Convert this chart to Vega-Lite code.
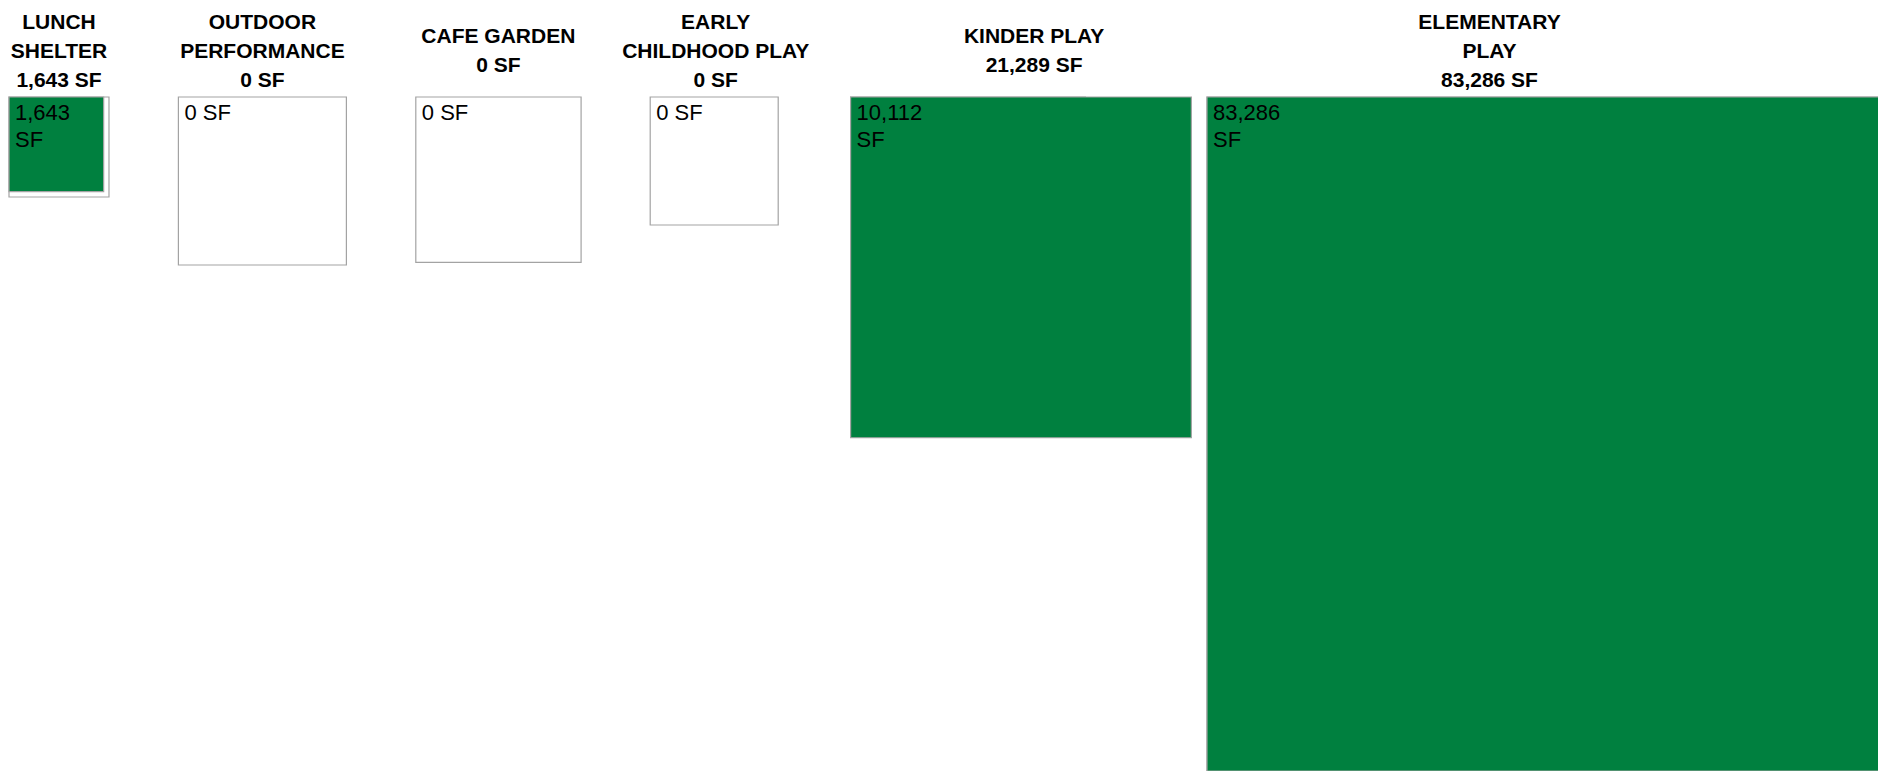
{
  "$schema": "https://vega.github.io/schema/vega-lite/v6.json",
  "padding": {"left": 8, "top": 11, "right": 0, "bottom": 0},
  "background": "white",
  "datasets": {
    "sf": [
      {"name": "LUNCH SHELTER", "actual": 1643, "target": 1833, "label": "1,643\nSF"},
      {"name": "OUTDOOR PERFORMANCE", "actual": 0, "target": 5174, "label": "0 SF"},
      {"name": "CAFE GARDEN", "actual": 0, "target": 5009, "label": "0 SF"},
      {"name": "EARLY CHILDHOOD PLAY", "actual": 0, "target": 3004, "label": "0 SF"},
      {"name": "KINDER PLAY", "actual": 21289, "target": 10112, "label": "10,112\nSF"},
      {"name": "ELEMENTARY PLAY", "actual": 83286, "target": 83286, "label": "83,286\nSF"}
    ]
  },
  "data": {"name": "sf"},
  "spacing": 69.4,
  "bounds": "flush",
  "resolve": {"scale": {"x": "independent", "y": "independent"}},
  "hconcat": [
    {
      "width": 100, "height": 674,
      "title": {"text": ["LUNCH", "SHELTER", "1,643 SF"]},
      "transform": [{"filter": "datum.name === 'LUNCH SHELTER'"}],
      "layer": [
        {"mark": {"type": "rect", "fill": "white", "stroke": "#a3a3a3", "strokeWidth": 1.2},
         "encoding": {
           "x": {"field": "target", "type": "quantitative", "scale": {"type": "sqrt", "domain": [0, 83286], "range": [0, 674], "nice": false}, "axis": null},
           "x2": {"datum": 0},
           "y": {"field": "target", "type": "quantitative", "scale": {"type": "sqrt", "domain": [0, 83286], "range": [0, 674], "nice": false}, "axis": null},
           "y2": {"datum": 0}}},
        {"transform": [{"filter": "datum.actual > 0"}],
         "mark": {"type": "rect", "fill": "#00803f", "stroke": "#a3a3a3", "strokeWidth": 1.2},
         "encoding": {
           "x": {"field": "actual", "type": "quantitative"},
           "x2": {"datum": 0},
           "y": {"field": "actual", "type": "quantitative"},
           "y2": {"datum": 0}}},
        {"mark": {"type": "text", "align": "left", "baseline": "top", "dx": 6, "dy": 6, "lineBreak": "\n", "lineHeight": 27, "fontSize": 22, "font": "Liberation Sans Narrow, Liberation Sans, Arial, sans-serif", "color": "black"},
         "encoding": {
           "x": {"datum": 0, "type": "quantitative"},
           "y": {"datum": 0, "type": "quantitative"},
           "text": {"field": "label", "type": "nominal"}}}
      ]
    },
    {
      "width": 168, "height": 674,
      "title": {"text": ["OUTDOOR", "PERFORMANCE", "0 SF"]},
      "transform": [{"filter": "datum.name === 'OUTDOOR PERFORMANCE'"}],
      "layer": [
        {"mark": {"type": "rect", "fill": "white", "stroke": "#a3a3a3", "strokeWidth": 1.2},
         "encoding": {
           "x": {"field": "target", "type": "quantitative", "scale": {"type": "sqrt", "domain": [0, 83286], "range": [0, 674], "nice": false}, "axis": null},
           "x2": {"datum": 0},
           "y": {"field": "target", "type": "quantitative", "scale": {"type": "sqrt", "domain": [0, 83286], "range": [0, 674], "nice": false}, "axis": null},
           "y2": {"datum": 0}}},
        {"transform": [{"filter": "datum.actual > 0"}],
         "mark": {"type": "rect", "fill": "#00803f", "stroke": "#a3a3a3", "strokeWidth": 1.2},
         "encoding": {
           "x": {"field": "actual", "type": "quantitative"},
           "x2": {"datum": 0},
           "y": {"field": "actual", "type": "quantitative"},
           "y2": {"datum": 0}}},
        {"mark": {"type": "text", "align": "left", "baseline": "top", "dx": 6, "dy": 6, "lineBreak": "\n", "lineHeight": 27, "fontSize": 22, "font": "Liberation Sans Narrow, Liberation Sans, Arial, sans-serif", "color": "black"},
         "encoding": {
           "x": {"datum": 0, "type": "quantitative"},
           "y": {"datum": 0, "type": "quantitative"},
           "text": {"field": "label", "type": "nominal"}}}
      ]
    },
    {
      "width": 165, "height": 674,
      "title": {"text": ["CAFE GARDEN", "0 SF"], "offset": 20},
      "transform": [{"filter": "datum.name === 'CAFE GARDEN'"}],
      "layer": [
        {"mark": {"type": "rect", "fill": "white", "stroke": "#a3a3a3", "strokeWidth": 1.2},
         "encoding": {
           "x": {"field": "target", "type": "quantitative", "scale": {"type": "sqrt", "domain": [0, 83286], "range": [0, 674], "nice": false}, "axis": null},
           "x2": {"datum": 0},
           "y": {"field": "target", "type": "quantitative", "scale": {"type": "sqrt", "domain": [0, 83286], "range": [0, 674], "nice": false}, "axis": null},
           "y2": {"datum": 0}}},
        {"transform": [{"filter": "datum.actual > 0"}],
         "mark": {"type": "rect", "fill": "#00803f", "stroke": "#a3a3a3", "strokeWidth": 1.2},
         "encoding": {
           "x": {"field": "actual", "type": "quantitative"},
           "x2": {"datum": 0},
           "y": {"field": "actual", "type": "quantitative"},
           "y2": {"datum": 0}}},
        {"mark": {"type": "text", "align": "left", "baseline": "top", "dx": 6, "dy": 6, "lineBreak": "\n", "lineHeight": 27, "fontSize": 22, "font": "Liberation Sans Narrow, Liberation Sans, Arial, sans-serif", "color": "black"},
         "encoding": {
           "x": {"datum": 0, "type": "quantitative"},
           "y": {"datum": 0, "type": "quantitative"},
           "text": {"field": "label", "type": "nominal"}}}
      ]
    },
    {
      "width": 131, "height": 674,
      "title": {"text": ["EARLY", "CHILDHOOD PLAY", "0 SF"]},
      "transform": [{"filter": "datum.name === 'EARLY CHILDHOOD PLAY'"}],
      "layer": [
        {"mark": {"type": "rect", "fill": "white", "stroke": "#a3a3a3", "strokeWidth": 1.2},
         "encoding": {
           "x": {"field": "target", "type": "quantitative", "scale": {"type": "sqrt", "domain": [0, 83286], "range": [0, 674], "nice": false}, "axis": null},
           "x2": {"datum": 0},
           "y": {"field": "target", "type": "quantitative", "scale": {"type": "sqrt", "domain": [0, 83286], "range": [0, 674], "nice": false}, "axis": null},
           "y2": {"datum": 0}}},
        {"transform": [{"filter": "datum.actual > 0"}],
         "mark": {"type": "rect", "fill": "#00803f", "stroke": "#a3a3a3", "strokeWidth": 1.2},
         "encoding": {
           "x": {"field": "actual", "type": "quantitative"},
           "x2": {"datum": 0},
           "y": {"field": "actual", "type": "quantitative"},
           "y2": {"datum": 0}}},
        {"mark": {"type": "text", "align": "left", "baseline": "top", "dx": 6, "dy": 6, "lineBreak": "\n", "lineHeight": 27, "fontSize": 22, "font": "Liberation Sans Narrow, Liberation Sans, Arial, sans-serif", "color": "black"},
         "encoding": {
           "x": {"datum": 0, "type": "quantitative"},
           "y": {"datum": 0, "type": "quantitative"},
           "text": {"field": "label", "type": "nominal"}}}
      ]
    },
    {
      "width": 287, "height": 674,
      "title": {"text": ["KINDER PLAY", "21,289 SF"], "dx": 40, "offset": 20},
      "transform": [{"filter": "datum.name === 'KINDER PLAY'"}],
      "layer": [
        {"mark": {"type": "rect", "fill": "white", "stroke": "#a3a3a3", "strokeWidth": 1.2},
         "encoding": {
           "x": {"field": "target", "type": "quantitative", "scale": {"type": "sqrt", "domain": [0, 83286], "range": [0, 674], "nice": false}, "axis": null},
           "x2": {"datum": 0},
           "y": {"field": "target", "type": "quantitative", "scale": {"type": "sqrt", "domain": [0, 83286], "range": [0, 674], "nice": false}, "axis": null},
           "y2": {"datum": 0}}},
        {"transform": [{"filter": "datum.actual > 0"}],
         "mark": {"type": "rect", "fill": "#00803f", "stroke": "#a3a3a3", "strokeWidth": 1.2},
         "encoding": {
           "x": {"field": "actual", "type": "quantitative"},
           "x2": {"datum": 0},
           "y": {"field": "actual", "type": "quantitative"},
           "y2": {"datum": 0}}},
        {"mark": {"type": "text", "align": "left", "baseline": "top", "dx": 6, "dy": 6, "lineBreak": "\n", "lineHeight": 27, "fontSize": 22, "font": "Liberation Sans Narrow, Liberation Sans, Arial, sans-serif", "color": "black"},
         "encoding": {
           "x": {"datum": 0, "type": "quantitative"},
           "y": {"datum": 0, "type": "quantitative"},
           "text": {"field": "label", "type": "nominal"}}}
      ]
    },
    {
      "width": 565, "height": 674,
      "title": {"text": ["ELEMENTARY", "PLAY", "83,286 SF"]},
      "transform": [{"filter": "datum.name === 'ELEMENTARY PLAY'"}],
      "layer": [
        {"mark": {"type": "rect", "fill": "white", "stroke": "#a3a3a3", "strokeWidth": 1.2},
         "encoding": {
           "x": {"field": "target", "type": "quantitative", "scale": {"type": "sqrt", "domain": [0, 83286], "range": [0, 674], "nice": false}, "axis": null},
           "x2": {"datum": 0},
           "y": {"field": "target", "type": "quantitative", "scale": {"type": "sqrt", "domain": [0, 83286], "range": [0, 674], "nice": false}, "axis": null},
           "y2": {"datum": 0}}},
        {"transform": [{"filter": "datum.actual > 0"}],
         "mark": {"type": "rect", "fill": "#00803f", "stroke": "#a3a3a3", "strokeWidth": 1.2},
         "encoding": {
           "x": {"field": "actual", "type": "quantitative"},
           "x2": {"datum": 0},
           "y": {"field": "actual", "type": "quantitative"},
           "y2": {"datum": 0}}},
        {"mark": {"type": "text", "align": "left", "baseline": "top", "dx": 6, "dy": 6, "lineBreak": "\n", "lineHeight": 27, "fontSize": 22, "font": "Liberation Sans Narrow, Liberation Sans, Arial, sans-serif", "color": "black"},
         "encoding": {
           "x": {"datum": 0, "type": "quantitative"},
           "y": {"datum": 0, "type": "quantitative"},
           "text": {"field": "label", "type": "nominal"}}}
      ]
    }
  ],
  "config": {
    "view": {"stroke": null},
    "title": {
      "font": "Liberation Sans Narrow, Liberation Sans, Arial, sans-serif",
      "fontSize": 21,
      "fontWeight": "bold",
      "lineHeight": 29,
      "baseline": "middle",
      "anchor": "middle",
      "frame": "group",
      "offset": 5.5,
      "color": "black"
    }
  }
}
